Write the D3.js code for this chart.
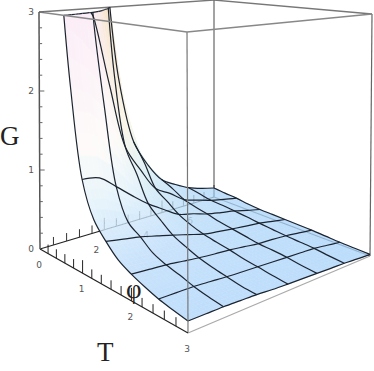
<!DOCTYPE html>
<html>

<head>
    <meta charset="utf-8">
    <script src="https://cdn.jsdelivr.net/npm/d3@7/dist/d3.min.js"></script>
    <title>G(T, phi)</title>

    <style>
        html, body {
            margin: 0;
            padding: 0;
            background: #fff;
        }

        svg {
            display: block;
        }

        .tick-label {
            font-family: "DejaVu Sans", sans-serif;
            font-size: 9px;
            fill: #555;
            text-anchor: middle;
        }

        .axis-label {
            font-family: "Liberation Serif", serif;
            font-size: 27px;
            fill: #222;
        }
    </style>
</head>

<body>
<svg width="374" height="371"></svg>

<script>
    const tValues = [0, 0.25, 0.5, 0.75, 1, 1.25, 1.5, 1.75, 2, 2.25, 2.5, 2.75, 3];
    const phiValues = [0, 0.5, 1, 1.5, 2, 2.5, 3, 3.5, 4, 4.5, 5, 5.5, 6];

    // G, one row per T, one column per phi (above 3 is cut by the box)
    const gRows = [
        [20, 17, 13, 7.5, 3.7, 1.99, 1.1, 0.73, 0.47, 0.35, 0.25, 0.185, 0.137],
        [8, 7.2, 5.6, 3.6, 2.12, 1.4, 0.86, 0.6, 0.4, 0.3, 0.22, 0.165, 0.12],
        [3.6, 3.3, 2.95, 2.05, 1.21, 0.865, 0.57, 0.45, 0.31, 0.247, 0.188, 0.146, 0.108],
        [2.15, 2.05, 1.83, 1.35, 0.917, 0.66, 0.46, 0.36, 0.27, 0.22, 0.18, 0.135, 0.085],
        [1.1, 1.07, 0.915, 0.75, 0.596, 0.47, 0.35, 0.3, 0.24, 0.2, 0.165, 0.115, 0.07],
        [0.69, 0.63, 0.548, 0.5, 0.46, 0.36, 0.28, 0.25, 0.2, 0.175, 0.15, 0.105, 0.065],
        [0.51, 0.475, 0.44, 0.39, 0.34, 0.285, 0.23, 0.2, 0.175, 0.15, 0.13, 0.095, 0.06],
        [0.37, 0.345, 0.32, 0.295, 0.27, 0.235, 0.2, 0.175, 0.15, 0.13, 0.115, 0.085, 0.055],
        [0.29, 0.275, 0.26, 0.235, 0.21, 0.19, 0.175, 0.15, 0.125, 0.115, 0.1, 0.075, 0.05],
        [0.23, 0.225, 0.22, 0.195, 0.171, 0.155, 0.14, 0.125, 0.115, 0.1, 0.09, 0.065, 0.04],
        [0.18, 0.176, 0.172, 0.157, 0.141, 0.13, 0.12, 0.11, 0.1, 0.09, 0.08, 0.055, 0.03],
        [0.148, 0.144, 0.14, 0.127, 0.113, 0.1, 0.095, 0.085, 0.075, 0.07, 0.06, 0.045, 0.025],
        [0.12, 0.118, 0.116, 0.108, 0.1, 0.085, 0.075, 0.067, 0.059, 0.05, 0.044, 0.03, 0.02]
    ];

    const gTicks = [0, 1, 2, 3];
    const tTicks = [0, 1, 2, 3];
    const phiTicks = [2, 4, 6];
    const gMax = 3;

    const svg = d3.select("svg");

    const tScale = d3.scaleLinear().domain([0, 3]).range([0, 1]);
    const phiScale = d3.scaleLinear().domain([0, 6]).range([0, 1]);
    const gScale = d3.scaleLinear().domain([0, gMax]).range([0, 1]);

    // box corners on screen: [T=0 phi=0, T=3 phi=0, T=3 phi=6, T=0 phi=6]
    const baseQuad = [[40, 249], [188, 333], [370, 256], [214, 197]];
    const topQuad = [[39, 12], [187, 32], [372, 14], [214, 0]];

    // unit square -> quad, perspective map
    function homography(q) {
        const [[x0, y0], [x1, y1], [x2, y2], [x3, y3]] = q;
        const dx1 = x1 - x2, dx2 = x3 - x2, sx = x0 - x1 + x2 - x3;
        const dy1 = y1 - y2, dy2 = y3 - y2, sy = y0 - y1 + y2 - y3;
        const det = dx1 * dy2 - dx2 * dy1;
        const g = (sx * dy2 - dx2 * sy) / det;
        const h = (dx1 * sy - sx * dy1) / det;
        const a = x1 - x0 + g * x1, b = x3 - x0 + h * x3;
        const d = y1 - y0 + g * y1, e = y3 - y0 + h * y3;
        return (u, v) => {
            const w = g * u + h * v + 1;
            return [(a * u + b * v + x0) / w, (d * u + e * v + y0) / w];
        };
    }

    const baseMap = homography(baseQuad);
    const topMap = homography(topQuad);

    function project(t, phi, g) {
        const u = tScale(t), v = phiScale(phi), k = gScale(g);
        const b = baseMap(u, v), c = topMap(u, v);
        return [b[0] + (c[0] - b[0]) * k, b[1] + (c[1] - b[1]) * k];
    }

    // bilinear read of the table between rows and columns
    function surfaceAt(t, phi) {
        const i = Math.min(d3.bisectRight(tValues, t) - 1, tValues.length - 2);
        const j = Math.min(d3.bisectRight(phiValues, phi) - 1, phiValues.length - 2);
        const a = (t - tValues[i]) / (tValues[i + 1] - tValues[i]);
        const b = (phi - phiValues[j]) / (phiValues[j + 1] - phiValues[j]);
        return (gRows[i][j] * (1 - a) + gRows[i + 1][j] * a) * (1 - b)
            + (gRows[i][j + 1] * (1 - a) + gRows[i + 1][j + 1] * a) * b;
    }

    // cut a polygon of [t, phi, g] at the box top, returns kept corners and the cut edge
    function clipTop(poly) {
        const out = [], cut = [];
        poly.forEach((p, n) => {
            const q = poly[(n + 1) % poly.length];
            if (p[2] <= gMax) out.push(p);
            if ((p[2] <= gMax) !== (q[2] <= gMax)) {
                const s = (gMax - p[2]) / (q[2] - p[2]);
                const c = [p[0] + (q[0] - p[0]) * s, p[1] + (q[1] - p[1]) * s, gMax];
                out.push(c);
                cut.push(c);
            }
        });
        return {out, cut};
    }

    const blueRamp = d3.scaleLinear()
        .domain([0, 0.3, 0.8, 1.4, 3])
        .range(["#a9d3fb", "#bcdcfb", "#e0f1fb", "#fdfbf8", "#fbe9f6"]);
    const warmRamp = d3.scaleLinear()
        .domain([0, 0.3, 0.8, 1.4, 3])
        .range(["#a9d3fb", "#b8dcf8", "#d8eef5", "#f9f5e6", "#f6dfbf"]);

    function surfaceColor(t, phi, g) {
        const warm = Math.min(1, Math.max(0, (phi - 0.6) / 1.2 + (0.3 - t)));
        return d3.interpolateRgb(blueRamp(g), warmRamp(g))(warm);
    }

    // back edges and back ticks sit under the surface
    function edge(g, a, b, color, width) {
        g.append("line")
            .attr("x1", a[0]).attr("y1", a[1])
            .attr("x2", b[0]).attr("y2", b[1])
            .attr("stroke", color).attr("stroke-width", width);
    }

    const back = svg.append("g");
    edge(back, topQuad[0], topQuad[3], "#777", 1.3);
    edge(back, topQuad[3], topQuad[2], "#777", 1.3);
    edge(back, baseQuad[3], topQuad[3], "#666", 1.2);
    edge(back, baseQuad[2], topQuad[2], "#666", 1.2);
    edge(back, baseQuad[0], baseQuad[3], "#222", 1.2);
    edge(back, baseQuad[3], baseQuad[2], "#444", 1.2);

    d3.range(1, 16).forEach((n) => {
        const phi = n * 0.4;
        const p = project(0, phi, 0);
        edge(back, p, [p[0], p[1] - (n % 5 === 0 ? 12 : 8)], "#333", 1);
    });

    back.selectAll(".phi-label")
        .data(phiTicks)
        .enter()
        .append("text")
        .attr("class", "tick-label")
        .attr("x", (d) => project(0, d, 0)[0] - 4 * d)
        .attr("y", (d) => project(0, d, 0)[1] + 21 + d)
        .text((d) => d);

    // surface, far cells first, one group opacity so the cells do not show seams
    const sheet = svg.append("g").attr("opacity", 0.8);
    const cutEdges = [];
    const steps = 4;
    const cells = [];
    d3.range(tValues.length - 1).forEach((i) => {
        d3.range(phiValues.length - 1).forEach((j) => {
            d3.range(steps).forEach((a) => {
                d3.range(steps).forEach((b) => {
                    const t0 = tValues[i] + (tValues[i + 1] - tValues[i]) * a / steps;
                    const t1 = tValues[i] + (tValues[i + 1] - tValues[i]) * (a + 1) / steps;
                    const p0 = phiValues[j] + (phiValues[j + 1] - phiValues[j]) * b / steps;
                    const p1 = phiValues[j] + (phiValues[j + 1] - phiValues[j]) * (b + 1) / steps;
                    cells.push([[t0, p0], [t1, p0], [t1, p1], [t0, p1]]);
                });
            });
        });
    });

    cells.sort((a, b) => (a[0][0] - a[0][1] / 2) - (b[0][0] - b[0][1] / 2));
    const polyLine = d3.line();

    cells.forEach((c) => {
        const poly = c.map((p) => [p[0], p[1], surfaceAt(p[0], p[1])]);
        const {out, cut} = clipTop(poly);
        if (out.length < 3) return;
        const mid = d3.mean(out, (p) => p[2]);
        const color = surfaceColor(d3.mean(out, (p) => p[0]), d3.mean(out, (p) => p[1]), mid);
        sheet.append("path")
            .attr("d", polyLine(out.map((p) => project(p[0], p[1], p[2]))) + "Z")
            .attr("fill", color)
            .attr("stroke", color)
            .attr("stroke-width", 0.5);
        if (cut.length === 2) cutEdges.push(cut);
    });

    // mesh lines every second row and column of the table
    const mesh = svg.append("g")
        .attr("fill", "none")
        .attr("stroke", "#1c2430")
        .attr("stroke-width", 1.2)
        .attr("stroke-linejoin", "round");
    const meshLine = d3.line().curve(d3.curveCatmullRom);

    function drawMesh(samples) {
        // keep only the run under the box top, ending exactly on it
        const kept = [];
        samples.forEach((p, n) => {
            const prev = samples[n - 1];
            if (prev && (prev[2] <= gMax) !== (p[2] <= gMax)) {
                const s = (gMax - prev[2]) / (p[2] - prev[2]);
                kept.push([prev[0] + (p[0] - prev[0]) * s, prev[1] + (p[1] - prev[1]) * s, gMax]);
            }
            if (p[2] <= gMax) kept.push(p);
        });
        if (kept.length < 2) return;
        mesh.append("path").attr("d", meshLine(kept.map((p) => project(p[0], p[1], p[2]))));
    }

    tValues.forEach((t, i) => {
        if (i % 2 === 0) drawMesh(phiValues.map((phi, j) => [t, phi, gRows[i][j]]));
    });
    phiValues.forEach((phi, j) => {
        if (j % 2 === 0) drawMesh(tValues.map((t, i) => [t, phi, gRows[i][j]]));
    });

    cutEdges.forEach((c) => {
        mesh.append("path").attr("d", polyLine(c.map((p) => project(p[0], p[1], p[2]))));
    });

    // front edges and the two visible axes go over the surface
    const front = svg.append("g");
    edge(front, baseQuad[1], topQuad[1], "#777", 1.2);
    edge(front, topQuad[0], topQuad[1], "#888", 1.3);
    edge(front, topQuad[1], topQuad[2], "#888", 1.3);
    edge(front, baseQuad[1], baseQuad[2], "#aaa", 1.3);
    edge(front, baseQuad[0], baseQuad[1], "#222", 1.2);
    edge(front, baseQuad[0], topQuad[0], "#555", 1.5);

    // ticks on G, going right off the axis
    d3.range(1, 16).forEach((n) => {
        const g = n * 0.2;
        const p = project(0, 0, g);
        edge(front, p, [p[0] + (n % 5 === 0 ? 5 : 3), p[1]], "#666", 1);
    });

    // ticks on T, standing up off the axis
    d3.range(1, 15).forEach((n) => {
        const p = project(n * 0.2, 0, 0);
        edge(front, p, [p[0], p[1] - (n % 5 === 0 ? 13 : 9)], "#222", 1);
    });

    front.selectAll(".g-label")
        .data(gTicks)
        .enter()
        .append("text")
        .attr("class", "tick-label")
        .attr("x", 31)
        .attr("y", (d) => project(0, 0, d)[1] + 3)
        .text((d) => d);

    front.selectAll(".t-label")
        .data(tTicks)
        .enter()
        .append("text")
        .attr("class", "tick-label")
        .attr("x", (d) => project(d, 0, 0)[0] - 1)
        .attr("y", (d) => project(d, 0, 0)[1] + 19)
        .text((d) => d);

    front.append("text").attr("class", "axis-label").attr("x", 0).attr("y", 145).text("G");
    front.append("text").attr("class", "axis-label").attr("x", 97).attr("y", 361).text("T");
    front.append("text").attr("class", "axis-label").attr("x", 126).attr("y", 298).text("φ");
</script>
</body>

</html>
